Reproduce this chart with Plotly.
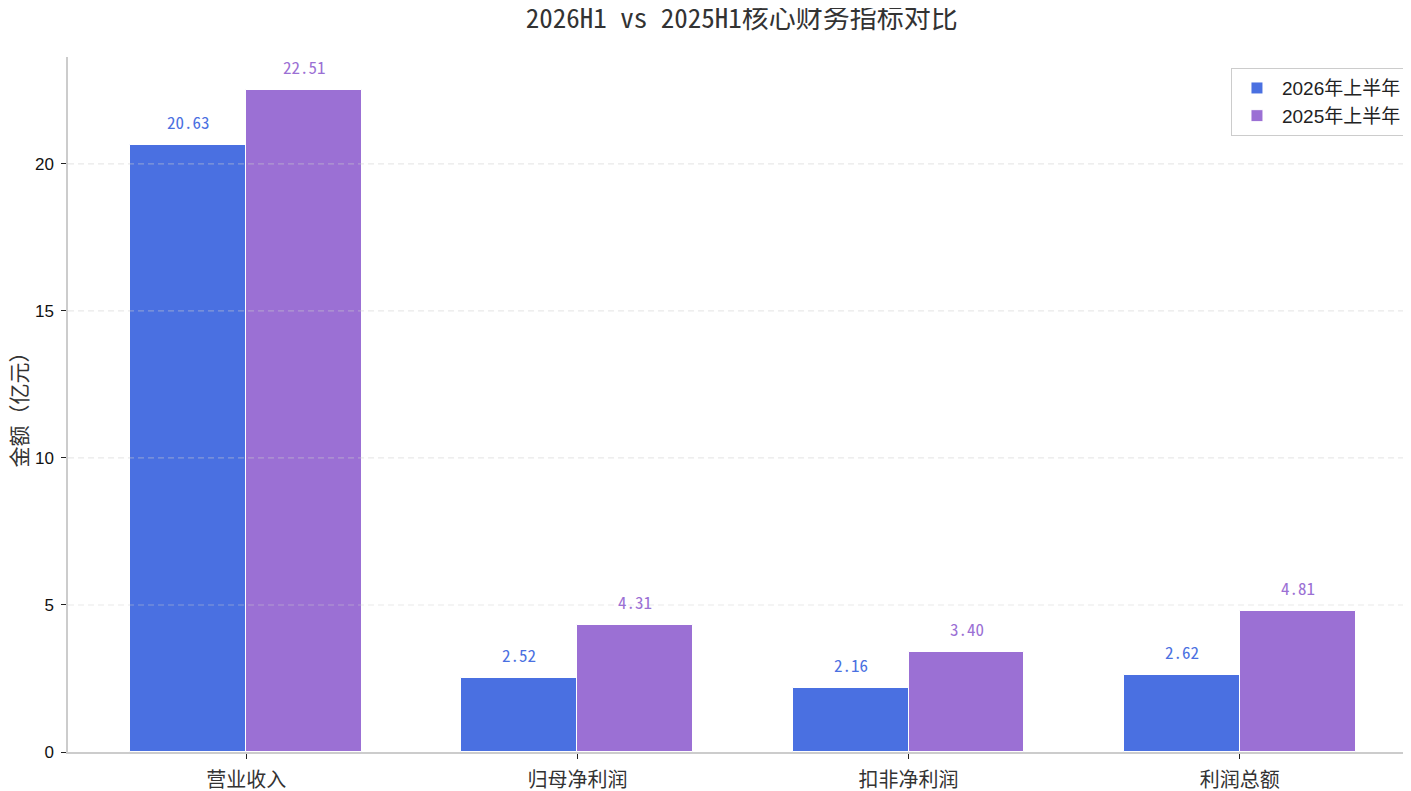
import plotly.graph_objects as go

# data (亿元)
categories = ["营业收入", "归母净利润", "扣非净利润", "利润总额"]
h1_2026 = [20.63, 2.52, 2.16, 2.62]
h1_2025 = [22.51, 4.31, 3.40, 4.81]
series_names = ["2026年上半年", "2025年上半年"]
y_ticks = [0, 5, 10, 15, 20]

blue = "#4A70E1"
purple = "#9B70D4"
mono = "Noto Sans Mono CJK SC, Noto Sans CJK SC, monospace"
sans = "Liberation Sans, Noto Sans CJK SC, sans-serif"

width = 0.35
idx = list(range(len(categories)))
x_a = [i - width / 2 for i in idx]
x_b = [i + width / 2 for i in idx]

fig = go.Figure()
fig.add_trace(go.Bar(x=x_a, y=h1_2026, width=width, name=series_names[0],
                     marker=dict(color=blue, line=dict(color="white", width=1))))
fig.add_trace(go.Bar(x=x_b, y=h1_2025, width=width, name=series_names[1],
                     marker=dict(color=purple, line=dict(color="white", width=1))))

# value labels above bars
for xs, ys, c in [(x_a, h1_2026, blue), (x_b, h1_2025, purple)]:
    for xv, yv in zip(xs, ys):
        fig.add_annotation(x=xv, y=yv, text=f"{yv:.2f}", showarrow=False,
                           yanchor="bottom", yshift=9,
                           font=dict(family=mono, size=17, color=c))

# dashed grid drawn over the bars, like the original
for t in y_ticks[1:]:
    fig.add_shape(type="line", xref="paper", x0=0, x1=1, yref="y", y0=t, y1=t,
                  layer="above",
                  line=dict(color="rgba(205,205,205,0.45)", width=1.2, dash="6px,4px"))

# page body has an 8px margin, so the figure is 8px smaller than the window
fig.update_layout(
    width=1403, height=783,
    paper_bgcolor="white", plot_bgcolor="white",
    margin=dict(l=60, r=0, t=49, b=33),
    title=dict(text="2026H1 vs 2025H1核心财务指标对比", x=0.523, xanchor="center",
               y=0.998, yanchor="top", pad=dict(t=0, b=0),
               font=dict(family=mono, size=27, color="#333333")),
    barmode="overlay",
    bargap=0,
    legend=dict(x=0.997, xanchor="right", y=0.984, yanchor="top",
                bgcolor="white", bordercolor="#cccccc", borderwidth=1,
                font=dict(family=sans, size=19, color="#222222"),
                itemwidth=40, tracegroupgap=4),
    showlegend=True,
)

fig.update_xaxes(
    range=[-0.538, 3.517],
    tickvals=idx, ticktext=categories,
    showgrid=False, zeroline=False,
    showline=True, linecolor="#cccccc", linewidth=1.5,
    ticks="outside", ticklen=5, tickcolor="#222222",
    ticklabelstandoff=4,
    tickfont=dict(family=sans, size=20, color="#333333"),
)
fig.update_yaxes(
    range=[0, 23.6355],
    tickvals=y_ticks,
    showgrid=False, zeroline=False,
    showline=True, linecolor="#cccccc", linewidth=1.5,
    ticks="outside", ticklen=5, tickcolor="#222222",
    ticklabelstandoff=4,
    tickfont=dict(family=sans, size=17, color="#111111"),
    title=dict(text="金额（亿元）", standoff=6,
               font=dict(family=sans, size=21, color="#333333")),
)

fig.write_html("out.html")
